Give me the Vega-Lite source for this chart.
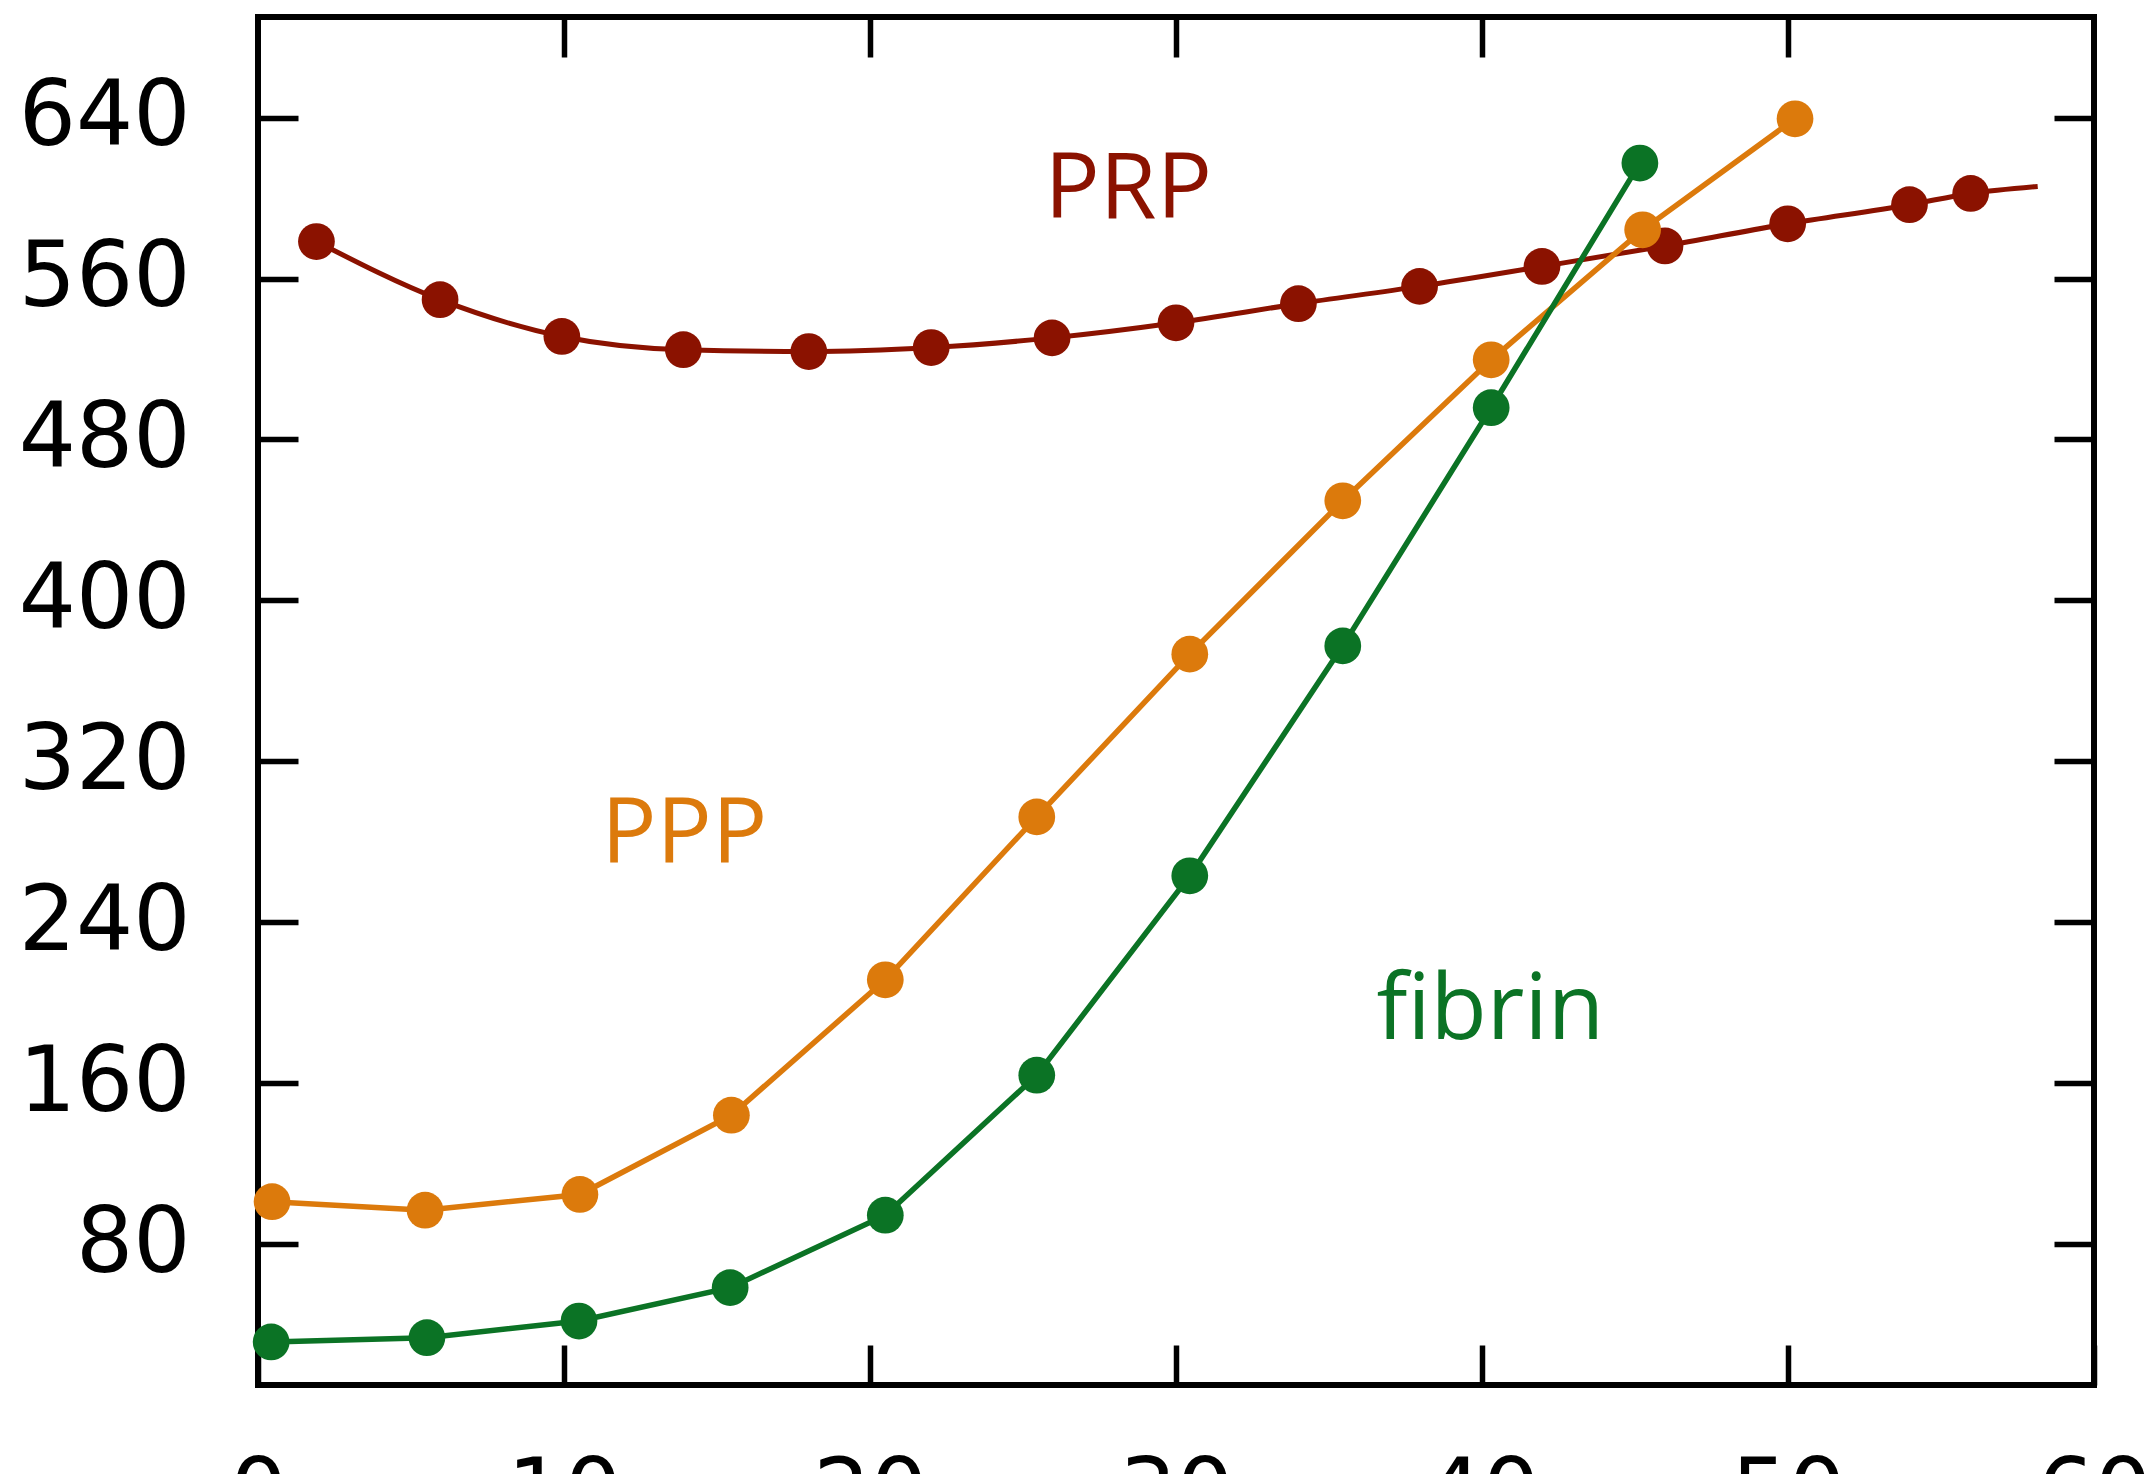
{
  "$schema": "https://vega.github.io/schema/vega-lite/v6.json",
  "width": 1836,
  "height": 1368,
  "autosize": {"type": "none"},
  "padding": {"left": 258, "top": 17, "right": 60, "bottom": 130},
  "background": "white",
  "config": {
    "view": {"stroke": "#000", "strokeWidth": 6},
    "axis": {
      "domain": false,
      "grid": false,
      "tickColor": "#000",
      "tickWidth": 5.5,
      "labelFont": "DejaVu Sans",
      "labelFontSize": 90,
      "labelColor": "#000",
      "labelFlush": false,
      "labelOverlap": false
    }
  },
  "datasets": {
    "curves": [
      {"series": "PRP", "x": 1.91, "y": 578.4, "marker": true},
      {"series": "PRP", "x": 5.95, "y": 549.5, "marker": true},
      {"series": "PRP", "x": 9.93, "y": 531.2, "marker": true},
      {"series": "PRP", "x": 13.9, "y": 524.6, "marker": true},
      {"series": "PRP", "x": 18.0, "y": 523.7, "marker": true},
      {"series": "PRP", "x": 22.0, "y": 525.7, "marker": true},
      {"series": "PRP", "x": 25.95, "y": 530.5, "marker": true},
      {"series": "PRP", "x": 30.0, "y": 538.0, "marker": true},
      {"series": "PRP", "x": 34.0, "y": 547.5, "marker": true},
      {"series": "PRP", "x": 37.96, "y": 556.1, "marker": true},
      {"series": "PRP", "x": 41.96, "y": 566.0, "marker": true},
      {"series": "PRP", "x": 45.98, "y": 576.2, "marker": true},
      {"series": "PRP", "x": 49.99, "y": 587.2, "marker": true},
      {"series": "PRP", "x": 53.97, "y": 596.7, "marker": true},
      {"series": "PRP", "x": 55.97, "y": 602.3, "marker": true},
      {"series": "PRP", "x": 58.16, "y": 605.8, "marker": false},
      {"series": "PPP", "x": 0.46, "y": 101.1, "marker": true},
      {"series": "PPP", "x": 5.46, "y": 96.9, "marker": true},
      {"series": "PPP", "x": 10.52, "y": 104.7, "marker": true},
      {"series": "PPP", "x": 15.47, "y": 144.1, "marker": true},
      {"series": "PPP", "x": 20.5, "y": 211.4, "marker": true},
      {"series": "PPP", "x": 25.45, "y": 292.4, "marker": true},
      {"series": "PPP", "x": 30.45, "y": 373.3, "marker": true},
      {"series": "PPP", "x": 35.45, "y": 449.5, "marker": true},
      {"series": "PPP", "x": 40.3, "y": 519.6, "marker": true},
      {"series": "PPP", "x": 45.25, "y": 584.2, "marker": true},
      {"series": "PPP", "x": 50.23, "y": 639.4, "marker": true},
      {"series": "fibrin", "x": 0.43, "y": 31.4, "marker": true},
      {"series": "fibrin", "x": 5.52, "y": 33.5, "marker": true},
      {"series": "fibrin", "x": 10.49, "y": 41.8, "marker": true},
      {"series": "fibrin", "x": 15.43, "y": 58.4, "marker": true},
      {"series": "fibrin", "x": 20.5, "y": 94.4, "marker": true},
      {"series": "fibrin", "x": 25.45, "y": 164.0, "marker": true},
      {"series": "fibrin", "x": 30.45, "y": 263.1, "marker": true},
      {"series": "fibrin", "x": 35.45, "y": 377.4, "marker": true},
      {"series": "fibrin", "x": 40.3, "y": 495.8, "marker": true},
      {"series": "fibrin", "x": 45.16, "y": 617.4, "marker": true}
    ],
    "labels": [
      {"series": "PRP", "x": 28.44, "y": 590.2, "text": "PRP"},
      {"series": "PPP", "x": 13.93, "y": 269.7, "text": "PPP"},
      {"series": "fibrin", "x": 40.27, "y": 181.8, "text": "fibrin"}
    ]
  },
  "layer": [
    {
      "data": {"name": "curves"},
      "transform": [{"filter": "datum.series === 'PRP'"}],
      "mark": {"type": "line", "interpolate": "monotone", "strokeWidth": 5, "color": "#8b1200"},
      "encoding": {
        "x": {
          "field": "x", "type": "quantitative",
          "scale": {"domain": [0, 60], "nice": false, "zero": false},
          "axis": {"orient": "bottom", "values": [0, 10, 20, 30, 40, 50, 60], "tickSize": -40, "labelPadding": 106, "title": null}
        },
        "y": {
          "field": "y", "type": "quantitative",
          "scale": {"domain": [10, 690], "nice": false, "zero": false},
          "axis": {"orient": "left", "values": [80, 160, 240, 320, 400, 480, 560, 640], "tickSize": -40, "labelPadding": 108, "title": null}
        }
      }
    },
    {
      "data": {"name": "curves"},
      "transform": [{"filter": "datum.series !== 'PRP'"}],
      "mark": {"type": "line", "strokeWidth": 5.5},
      "encoding": {
        "x": {
          "field": "x", "type": "quantitative",
          "axis": {"orient": "top", "values": [10, 20, 30, 40, 50], "tickSize": -40, "labels": false, "title": null}
        },
        "y": {
          "field": "y", "type": "quantitative",
          "axis": {"orient": "right", "values": [80, 160, 240, 320, 400, 480, 560, 640], "tickSize": -40, "labels": false, "title": null}
        },
        "color": {
          "field": "series", "type": "nominal",
          "scale": {"domain": ["PRP", "PPP", "fibrin"], "range": ["#8b1200", "#dc7a0c", "#0b7325"]},
          "legend": null
        },
        "detail": {"field": "series"}
      }
    },
    {
      "data": {"name": "curves"},
      "transform": [{"filter": "datum.marker"}],
      "mark": {"type": "point", "shape": "circle", "filled": true, "size": 1350, "opacity": 1},
      "encoding": {
        "x": {"field": "x", "type": "quantitative", "axis": null},
        "y": {"field": "y", "type": "quantitative", "axis": null},
        "color": {"field": "series", "type": "nominal", "legend": null}
      }
    },
    {
      "data": {"name": "labels"},
      "mark": {"type": "text", "font": "Open Sans", "fontSize": 92, "align": "center", "baseline": "alphabetic"},
      "encoding": {
        "x": {"field": "x", "type": "quantitative", "axis": null},
        "y": {"field": "y", "type": "quantitative", "axis": null},
        "text": {"field": "text"},
        "color": {"field": "series", "type": "nominal", "legend": null}
      }
    }
  ],
  "resolve": {"axis": {"x": "independent", "y": "independent"}}
}
